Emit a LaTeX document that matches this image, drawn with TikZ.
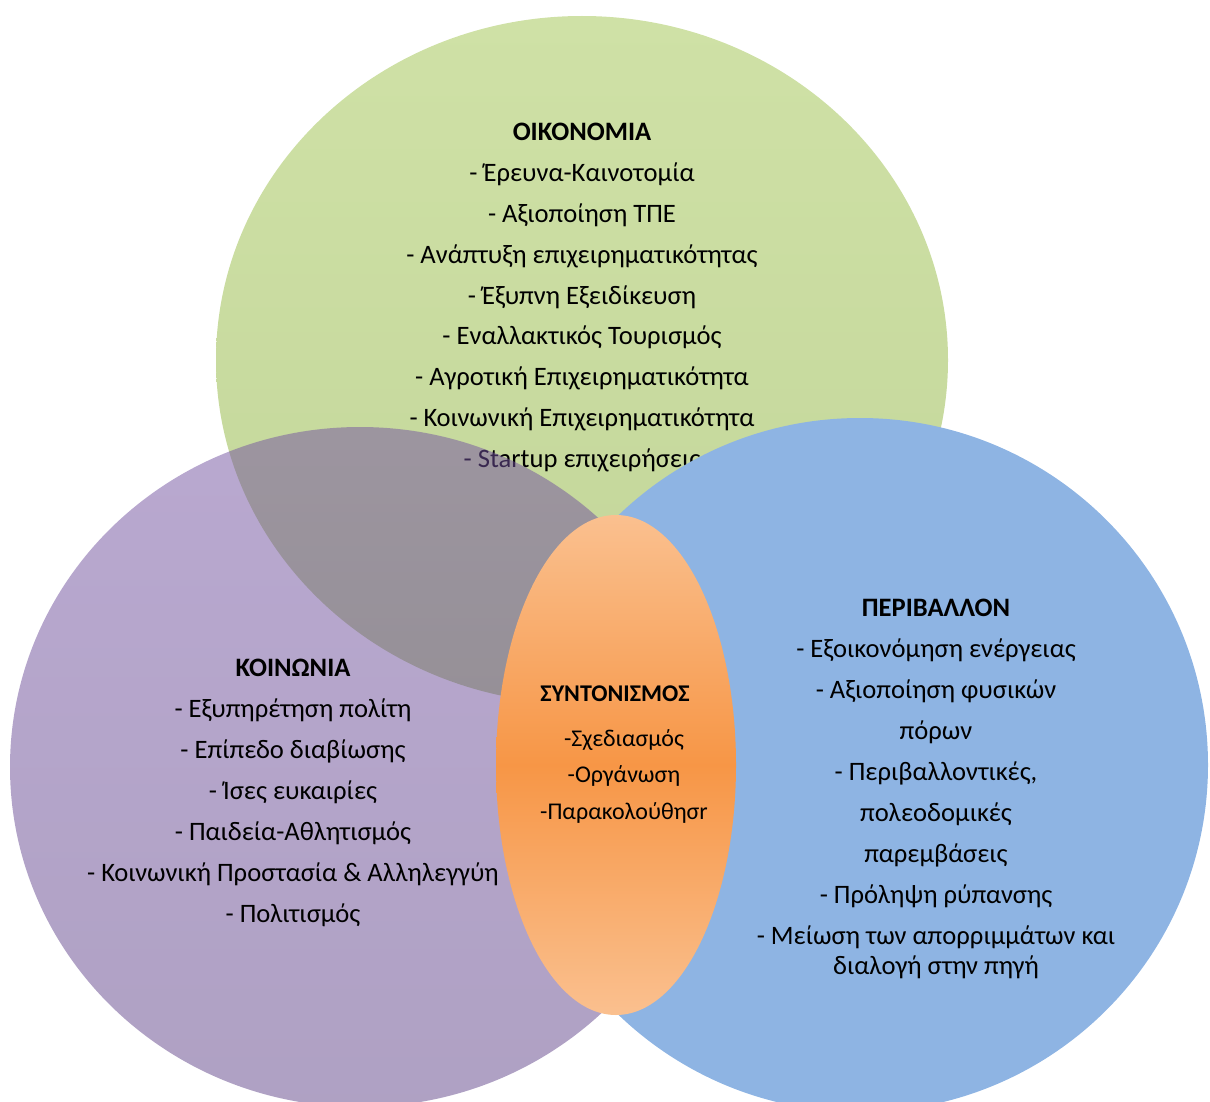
\documentclass[tikz,border=0pt]{standalone}
\usepackage{fontspec}
\setmainfont{Carlito}
\usepackage{tikz}
\usetikzlibrary{shapes.geometric,positioning}
\definecolor{econtop}{RGB}{207,225,166}
\definecolor{econbottom}{RGB}{194,213,153}
\definecolor{soctop}{RGB}{115,82,161}
\definecolor{socbottom}{RGB}{95,67,136}
\definecolor{envblue}{RGB}{142,180,227}
\definecolor{coordlight}{RGB}{250,192,143}
\definecolor{coorddark}{RGB}{247,150,70}
\tikzstyle{venn} = [ellipse, inner sep=0pt, draw=none]
\tikzstyle{settext} = [align=center, inner sep=0pt, anchor=north, font=\fontsize{13.3}{20.45}\selectfont]
\tikzstyle{coordtext} = [align=center, inner sep=0pt, anchor=north, font=\fontsize{12}{18.25}\selectfont]

\begin{document}
\begin{tikzpicture}[x=0.5pt, y=-0.5pt]
	\useasboundingbox (0,0) rectangle (1210,1102);
	
	% SETS
	
	\node [venn, minimum width=366pt, minimum height=344pt, top color=econtop, bottom color=econbottom] (econ) at (582,360) {};
	
	\node [settext, below=53.5pt of econ.north] (econlist)
	{\textbf{ΟΙΚΟΝΟΜΙΑ}\\
		- Έρευνα-Καινοτομία\\
		- Αξιοποίηση ΤΠΕ\\
		- Ανάπτυξη επιχειρηματικότητας\\
		- Έξυπνη Εξειδίκευση\\
		- Εναλλακτικός Τουρισμός\\
		- Αγροτική Επιχειρηματικότητα\\
		- Κοινωνική Επιχειρηματικότητα\\
		- Startup επιχειρήσεις};
	
	\node [venn, minimum width=350pt, minimum height=340pt, top color=soctop, bottom color=socbottom, fill opacity=0.5] (soc) at (360,767) {};
	
	\node [venn, minimum width=348pt, minimum height=347pt, fill=envblue] (env) at (860,765) {};
	
	\node [venn, minimum width=120pt, minimum height=250pt, top color=coordlight, bottom color=coordlight, middle color=coorddark] (coord) at (616,765) {};
	
	% TEXTS
	
	\node [settext] (soclist) at (293,659)
	{\textbf{ΚΟΙΝΩΝΙΑ}\\
		- Εξυπηρέτηση πολίτη\\
		- Επίπεδο διαβίωσης\\
		- Ίσες ευκαιρίες\\
		- Παιδεία-Αθλητισμός\\
		- Κοινωνική Προστασία \& Αλληλεγγύη\\
		- Πολιτισμός};
	
	\node [settext] (envlist) at (936,599)
	{\textbf{ΠΕΡΙΒΑΛΛΟΝ}\\
		- Εξοικονόμηση ενέργειας\\
		- Αξιοποίηση φυσικών\\
		πόρων\\
		- Περιβαλλοντικές,\\
		πολεοδομικές\\
		παρεμβάσεις\\
		- Πρόληψη ρύπανσης\\
		- Μείωση των απορριμμάτων και\\[-5pt]
		διαλογή στην πηγή};
	
	\node [coordtext] (coordtitle) at (615,685) {\textbf{ΣΥΝΤΟΝΙΣΜΟΣ}};
	\node [coordtext, below=13.5pt of coordtitle, xshift=4.5pt] (coordlist)
	{-Σχεδιασμός\\
		-Οργάνωση\\
		-Παρακολούθησr};
	
\end{tikzpicture}
\end{document}
